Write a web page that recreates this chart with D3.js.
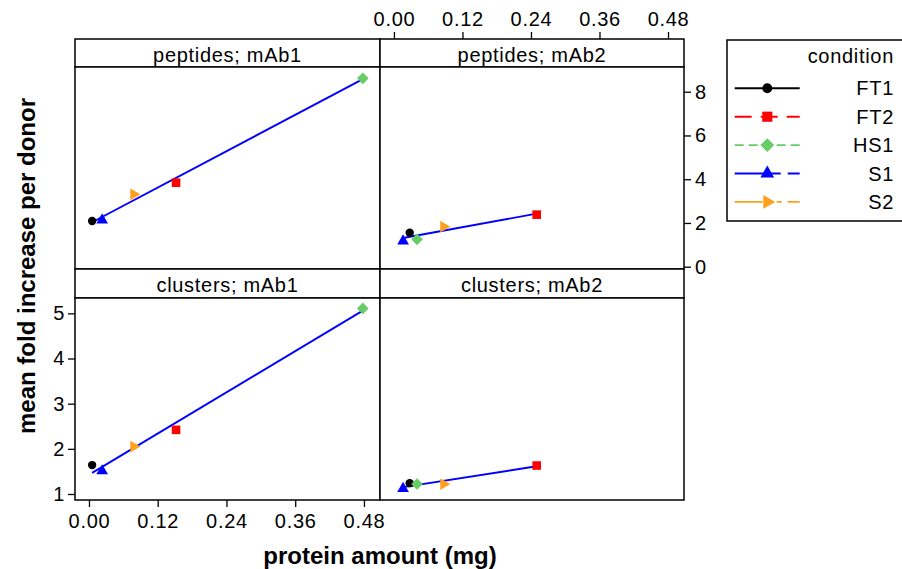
<!DOCTYPE html>
<html>
<head>
<meta charset="utf-8">
<script src="https://cdn.jsdelivr.net/npm/d3@7"></script>
<style>
  body { margin: 0; background: #fff; }
  text { font-family: "Liberation Sans", Arial, sans-serif; fill: #000; }
</style>
</head>
<body>
<div id="chart"></div>
<script>
// --- data ---
const conditions = ['FT1', 'FT2', 'HS1', 'S1', 'S2'];
const condColors = ['#000000', '#ff0000', '#66cc66', '#0000ff', '#ffa01c'];
const condDash = [null, '17,9', '9,5', '46,7', '28,14,5,6,14,20'];

const antibodies = ['mAb1', 'mAb2'];
const measures = ['peptides', 'clusters'];

// protein amount (mg) per condition, same order as conditions
const amountMab1 = [0.0055, 0.152, 0.478, 0.023, 0.078];
const amountMab2 = [0.0276, 0.250, 0.0405, 0.016, 0.087];

// mean fold increase per donor
const peptidesMab1 = [2.09, 3.84, 8.61, 2.13, 3.31];
const peptidesMab2 = [1.55, 2.38, 1.25, 1.17, 1.83];
const clustersMab1 = [1.64, 2.42, 5.11, 1.51, 2.05];
const clustersMab2 = [1.24, 1.63, 1.22, 1.12, 1.22];

const xTicks = [0, 0.12, 0.24, 0.36, 0.48];
const yTicksPeptides = [0, 2, 4, 6, 8];
const yTicksClusters = [1, 2, 3, 4, 5];

// --- layout ---
const width = 902, height = 569;
const cols = [[75, 380], [380, 684]];
const rows = [
  { stripTop: 39, top: 67, bottom: 269, domain: [-0.105, 9.13], ticks: yTicksPeptides },
  { stripTop: 269, top: 298, bottom: 500, domain: [0.867, 5.34], ticks: yTicksClusters }
];
const xDomain = [-0.0244, 0.508];

const amounts = { mAb1: amountMab1, mAb2: amountMab2 };
const values = {
  peptides: { mAb1: peptidesMab1, mAb2: peptidesMab2 },
  clusters: { mAb1: clustersMab1, mAb2: clustersMab2 }
};

const svg = d3.select('#chart').append('svg')
  .attr('width', width).attr('height', height);
svg.append('rect').attr('width', width).attr('height', height).attr('fill', '#fff');

function symbolPath(i, k) {
  const p = d3.path();
  if (i === 0) {
    const r = 4.2 * k;
    p.arc(0, 0, r, 0, 2 * Math.PI);
  } else if (i === 1) {
    const h = 4.3 * k;
    p.rect(-h, -h, 2 * h, 2 * h);
  } else if (i === 2) {
    const h = 5.8 * k;
    p.moveTo(0, -h); p.lineTo(h, 0); p.lineTo(0, h); p.lineTo(-h, 0); p.closePath();
  } else if (i === 3) {
    const w = 11.7 * k, t = w * Math.sqrt(3) / 2;
    p.moveTo(0, -2 * t / 3); p.lineTo(w / 2, t / 3); p.lineTo(-w / 2, t / 3); p.closePath();
  } else {
    const w = 11.7 * k, t = w * Math.sqrt(3) / 2;
    p.moveTo(2 * t / 3, 0); p.lineTo(-t / 3, w / 2); p.lineTo(-t / 3, -w / 2); p.closePath();
  }
  return p.toString();
}

function styleAxis(g) {
  g.select('.domain').remove();
  g.selectAll('.tick line').attr('stroke', '#000').attr('stroke-width', 1.3);
  g.selectAll('.tick text')
    .style('font-size', '20px').style('letter-spacing', '0.7px')
    .style('font-family', '"Liberation Sans", Arial, sans-serif')
    .attr('fill', '#000');
}

rows.forEach((row, ri) => {
  const y = d3.scaleLinear().domain(row.domain).range([row.bottom, row.top]);
  cols.forEach((col, ci) => {
    const x = d3.scaleLinear().domain(xDomain).range(col);
    const measure = measures[ri], ab = antibodies[ci];
    const xs = amounts[ab], ys = values[measure][ab];
    const pts = xs.map((v, i) => ({ x: v, y: ys[i], i }));

    const g = svg.append('g');

    // strip
    g.append('rect')
      .attr('x', col[0]).attr('y', row.stripTop)
      .attr('width', col[1] - col[0]).attr('height', row.top - row.stripTop)
      .attr('fill', '#fff').attr('stroke', '#000').attr('stroke-width', 1.5);
    g.append('text')
      .attr('x', (col[0] + col[1]) / 2).attr('y', row.stripTop + 22.5)
      .attr('text-anchor', 'middle')
      .style('font-size', '20px').style('letter-spacing', '0.7px')
      .text(`${measure}; ${ab}`);

    // panel
    g.append('rect')
      .attr('x', col[0]).attr('y', row.top)
      .attr('width', col[1] - col[0]).attr('height', row.bottom - row.top)
      .attr('fill', '#fff').attr('stroke', '#000').attr('stroke-width', 1.5);

    // least squares line
    const mx = d3.mean(pts, d => d.x), my = d3.mean(pts, d => d.y);
    const sxy = d3.sum(pts, d => (d.x - mx) * (d.y - my));
    const sxx = d3.sum(pts, d => (d.x - mx) ** 2);
    const b = sxy / sxx, a = my - b * mx;
    const [x0, x1] = d3.extent(pts, d => d.x);
    g.append('line')
      .attr('x1', x(x0)).attr('y1', y(a + b * x0))
      .attr('x2', x(x1)).attr('y2', y(a + b * x1))
      .attr('stroke', '#0000ff').attr('stroke-width', 1.9);

    g.selectAll('path.pt').data(pts).join('path')
      .attr('class', 'pt')
      .attr('d', d => symbolPath(d.i, 1))
      .attr('transform', d => `translate(${x(d.x)},${y(d.y)})`)
      .attr('fill', d => condColors[d.i]);

    // alternating axes
    if (ri === 0 && ci === 1) {
      svg.append('g').attr('transform', `translate(0,${row.stripTop})`)
        .call(d3.axisTop(x).tickValues(xTicks).tickFormat(d3.format('.2f')).tickSize(7).tickPadding(6))
        .call(styleAxis);
      svg.append('g').attr('transform', `translate(${col[1]},0)`)
        .call(d3.axisRight(y).tickValues(row.ticks).tickFormat(d3.format('d')).tickSize(7).tickPadding(4))
        .call(styleAxis);
    }
    if (ri === 1 && ci === 0) {
      svg.append('g').attr('transform', `translate(0,${row.bottom})`)
        .call(d3.axisBottom(x).tickValues(xTicks).tickFormat(d3.format('.2f')).tickSize(7).tickPadding(7))
        .call(styleAxis);
      svg.append('g').attr('transform', `translate(${col[0]},0)`)
        .call(d3.axisLeft(y).tickValues(row.ticks).tickFormat(d3.format('d')).tickSize(7).tickPadding(3))
        .call(styleAxis);
    }
  });
});

// axis titles
svg.append('text')
  .attr('x', 380).attr('y', 564)
  .attr('text-anchor', 'middle')
  .style('font-size', '24px').style('font-weight', 'bold')
  .text('protein amount (mg)');
svg.append('text')
  .attr('transform', 'translate(35,266) rotate(-90)')
  .attr('text-anchor', 'middle')
  .style('font-size', '24px').style('font-weight', 'bold')
  .text('mean fold increase per donor');

// legend
const lg = svg.append('g');
lg.append('rect')
  .attr('x', 727).attr('y', 40).attr('width', 190).attr('height', 181)
  .attr('fill', '#fff').attr('stroke', '#000').attr('stroke-width', 1.5);
lg.append('text')
  .attr('x', 894).attr('y', 63).attr('text-anchor', 'end')
  .style('font-size', '20px').style('letter-spacing', '0.7px')
  .text('condition');
conditions.forEach((c, i) => {
  const cy = 88.3 + i * 28.4;
  lg.append('line')
    .attr('x1', 734.7).attr('x2', 799.7).attr('y1', cy).attr('y2', cy)
    .attr('stroke', condColors[i]).attr('stroke-width', 1.9)
    .attr('stroke-dasharray', condDash[i]);
  lg.append('path')
    .attr('d', symbolPath(i, 1.18))
    .attr('transform', `translate(767.3,${cy})`)
    .attr('fill', condColors[i]);
  lg.append('text')
    .attr('x', 894).attr('y', cy + 7).attr('text-anchor', 'end')
    .style('font-size', '20px').style('letter-spacing', '0.7px')
    .text(c);
});
</script>
</body>
</html>
